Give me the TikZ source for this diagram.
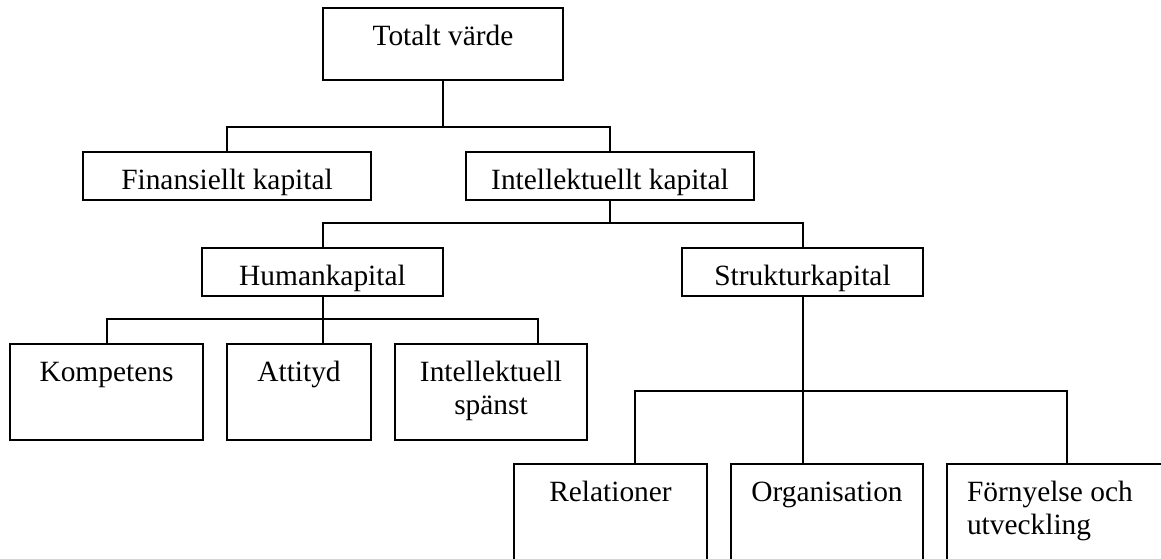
\documentclass[tikz,border=0pt]{standalone}
\usepackage{fontspec}
\setmainfont{Liberation Serif}
\usetikzlibrary{calc}

\begin{document}
\begin{tikzpicture}[x=0.5pt, y=-0.5pt, line width=1pt,
  font=\fontsize{14.7}{16.5}\selectfont,
  box/.style={draw, rectangle, anchor=north, inner sep=0pt,
    align=center, text height=18.5pt, text depth=#1}]

  % Frame of the page
  \useasboundingbox (0,0) rectangle (1161,558);
  \clip (0,0) rectangle (1161,558);

  % Top level
  \node[box=17.5pt, minimum width=120pt] (totalt) at (443,7) {Totalt värde};

  % Second level
  \node[box=5.5pt, minimum width=144pt] (finans) at (227,151) {Finansiellt kapital};
  \node[box=5.5pt, minimum width=144pt] (intell) at (610,151) {Intellektuellt kapital};

  % Third level
  \node[box=5.5pt, minimum width=120.5pt] (human) at (322.5,247) {Humankapital};
  \node[box=5.5pt, minimum width=120.5pt] (struktur) at (802.5,247) {Strukturkapital};

  % Humankapital parts (text sits near the top)
  \node[box=29.5pt, minimum width=96.5pt, text width=90pt] (kompetens) at (106.5,343) {Kompetens};
  \node[box=29.5pt, minimum width=72pt, text width=66pt] (attityd) at (299,343) {Attityd};
  \node[box=29.5pt, minimum width=96pt, text width=90pt] (spanst) at (491,343) {Intellektuell\\spänst};

  % Strukturkapital parts (run off the bottom)
  \node[box=50pt, minimum width=96.5pt, text width=90pt] (relationer) at (610.5,463) {Relationer};
  \node[box=50pt, minimum width=96pt, text width=90pt] (organisation) at (827,463) {Organisation};
  \node[box=50pt, minimum width=120pt, text width=100pt, align=flush left] (fornyelse) at (1067,463) {Förnyelse och\\utveckling};

  % Connectors
  \coordinate (topbus) at (443,127);
  \draw (totalt.south) -- (topbus);
  \draw (finans.north) |- (topbus) -| (intell.north);

  \coordinate (midbus) at (610,223);
  \draw (intell.south) -- (midbus);
  \draw (human.north) |- (midbus) -| (struktur.north);

  \coordinate (humbus) at (322.5,319);
  \draw (human.south) -- (attityd.north -| human.south);
  \draw (kompetens.north) |- (humbus) -| ([xshift=23.5pt]spanst.north);

  \coordinate (strbus) at (802.5,391);
  \draw (struktur.south) -- (organisation.north -| struktur.south);
  \draw ([xshift=12.25pt]relationer.north) |- (strbus) -| (fornyelse.north);

\end{tikzpicture}
\end{document}
